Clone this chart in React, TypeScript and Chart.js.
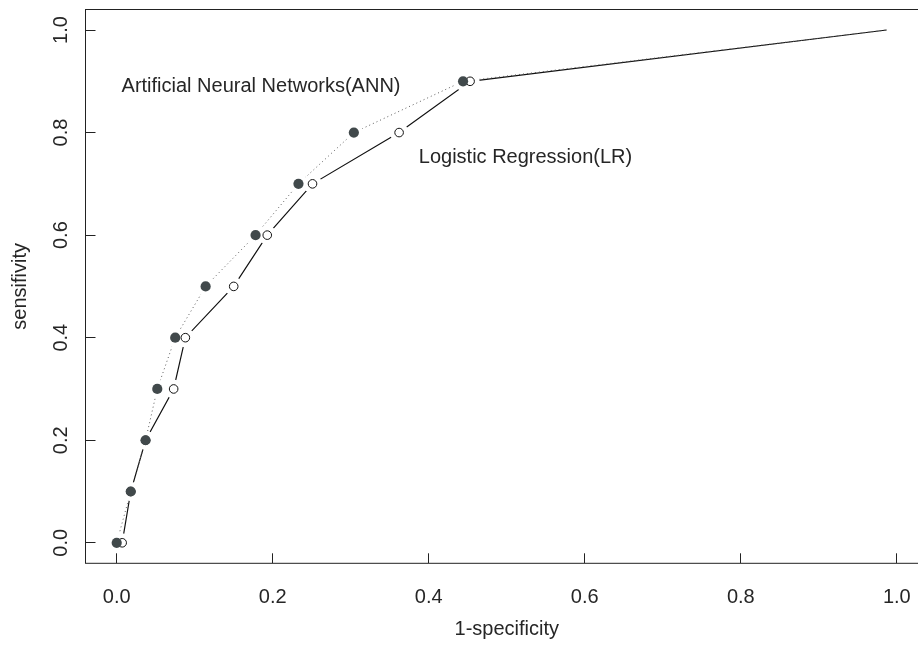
import { useEffect, useRef } from "react";
import { Chart, registerables } from "chart.js";

Chart.register(...registerables);

// ---- data ----
const TPR = [0, 0.1, 0.2, 0.3, 0.4, 0.5, 0.6, 0.7, 0.8, 0.9, 1.0];
const ANN_FPR = [0, 0.018, 0.037, 0.052, 0.075, 0.114, 0.178, 0.233, 0.304, 0.444, 0.987];
const LR_FPR = [0.007, 0.018, 0.037, 0.073, 0.088, 0.15, 0.193, 0.251, 0.362, 0.453, 0.987];
const X_TICKS = [0, 0.2, 0.4, 0.6, 0.8, 1.0];
const Y_TICKS = [0, 0.2, 0.4, 0.6, 0.8, 1.0];
const X_TITLE = "1-specificity";
const Y_TITLE = "sensifivity";
const ANN_LABEL = "Artificial Neural Networks(ANN)";
const LR_LABEL = "Logistic Regression(LR)";
const ANN_LABEL_AT = [0.185, 0.89];
const LR_LABEL_AT = [0.524, 0.751];

// ---- styles ----
const FONT_FAMILY = '"Liberation Sans", Arial, Helvetica, sans-serif';
const FONT_SIZE = 20;
const TEXT_COLOR = "#262626";
const AXIS_COLOR = "#222222";
const FILL_COLOR = "#41494b";

const annPoints = ANN_FPR.map((x, i) => ({ x, y: TPR[i] }));
const lrPoints = LR_FPR.map((x, i) => ({ x, y: TPR[i] }));
const lastIdx = TPR.length - 1;
const markerRadius = (r: number) => (ctx: any) => (ctx.dataIndex === lastIdx ? 0 : r);

const framePlugin = {
  id: "frame",
  beforeDatasetsDraw(chart: any) {
    const { ctx, chartArea } = chart;
    ctx.save();
    ctx.strokeStyle = AXIS_COLOR;
    ctx.lineWidth = 1;
    ctx.strokeRect(chartArea.left, chartArea.top, chartArea.right + 20 - chartArea.left, chartArea.bottom - chartArea.top);
    ctx.restore();
  },
  afterDatasetsDraw(chart: any) {
    const { ctx, scales } = chart;
    ctx.save();
    ctx.font = `${FONT_SIZE}px ${FONT_FAMILY}`;
    ctx.fillStyle = TEXT_COLOR;
    ctx.textAlign = "center";
    ctx.textBaseline = "middle";
    const items: [string, number[]][] = [
      [ANN_LABEL, ANN_LABEL_AT],
      [LR_LABEL, LR_LABEL_AT],
    ];
    for (const [text, at] of items) {
      ctx.fillText(text, scales.x.getPixelForValue(at[0]), scales.y.getPixelForValue(at[1]));
    }
    ctx.restore();
  },
};

const tickFont = { family: FONT_FAMILY, size: FONT_SIZE };

export default function App() {
  const ref = useRef<HTMLCanvasElement>(null);
  useEffect(() => {
    const chart = new Chart(ref.current as HTMLCanvasElement, {
      type: "line",
      data: {
        datasets: [
          {
            label: "ANN markers",
            data: annPoints,
            showLine: false,
            pointRadius: markerRadius(5.1),
            pointBackgroundColor: FILL_COLOR,
            pointBorderColor: FILL_COLOR,
            pointBorderWidth: 0,
            order: 0,
          },
          {
            label: "LR markers",
            data: lrPoints,
            showLine: false,
            pointRadius: markerRadius(4.3),
            pointBackgroundColor: "#ffffff",
            pointBorderColor: "#111111",
            pointBorderWidth: 1,
            order: 1,
          },
          {
            label: "ANN gap",
            data: annPoints,
            showLine: false,
            pointRadius: markerRadius(9.5),
            pointBackgroundColor: "#ffffff",
            pointBorderWidth: 0,
            order: 2,
          },
          {
            label: "LR gap",
            data: lrPoints,
            showLine: false,
            pointRadius: markerRadius(9.5),
            pointBackgroundColor: "#ffffff",
            pointBorderWidth: 0,
            order: 3,
          },
          {
            label: "ANN",
            data: annPoints,
            borderColor: "#5a5a5a",
            borderWidth: 1,
            borderDash: [1, 3],
            pointRadius: 0,
            tension: 0,
            order: 4,
          },
          {
            label: "LR",
            data: lrPoints,
            borderColor: "#111111",
            borderWidth: 1.2,
            pointRadius: 0,
            tension: 0,
            order: 5,
          },
        ],
      } as any,
      options: {
        responsive: false,
        animation: false,
        devicePixelRatio: 1,
        events: [],
        layout: { padding: { top: 7.7, right: 12, bottom: 0, left: 0 } },
        plugins: { legend: { display: false }, tooltip: { enabled: false } },
        scales: {
          x: {
            type: "linear",
            min: -0.04,
            max: 1.04,
            afterBuildTicks: (s: any) => {
              s.ticks = X_TICKS.map((v) => ({ value: v }));
            },
            afterFit: (s: any) => {
              s.height = 85.7;
              s.paddingLeft = 0;
              s.paddingRight = 0;
            },
            grid: {
              display: true,
              drawOnChartArea: false,
              drawTicks: true,
              tickLength: -10,
              tickColor: AXIS_COLOR,
              tickWidth: 1,
            },
            border: { display: false },
            ticks: {
              autoSkip: false,
              maxRotation: 0,
              padding: 31.7,
              color: TEXT_COLOR,
              font: tickFont,
              callback: (v: any) => Number(v).toFixed(1),
            },
            title: {
              display: true,
              text: X_TITLE,
              color: TEXT_COLOR,
              font: tickFont,
              padding: { top: 0, bottom: 8 },
            },
          },
          y: {
            type: "linear",
            min: -0.04,
            max: 1.04,
            afterBuildTicks: (s: any) => {
              s.ticks = Y_TICKS.map((v) => ({ value: v }));
            },
            afterFit: (s: any) => {
              s.width = 85.5;
              s.paddingTop = 0;
              s.paddingBottom = 0;
            },
            grid: {
              display: true,
              drawOnChartArea: false,
              drawTicks: true,
              tickLength: -10,
              tickColor: AXIS_COLOR,
              tickWidth: 1,
            },
            border: { display: false },
            ticks: {
              autoSkip: false,
              minRotation: 90,
              maxRotation: 90,
              crossAlign: "center",
              padding: 20.1,
              color: TEXT_COLOR,
              font: tickFont,
              callback: (v: any) => Number(v).toFixed(1),
            },
            title: {
              display: true,
              text: Y_TITLE,
              color: TEXT_COLOR,
              font: tickFont,
              padding: { top: 8, bottom: 0 },
            },
          },
        },
      } as any,
      plugins: [framePlugin],
    });
    return () => chart.destroy();
  }, []);

  return (
    <div
      style={{
        position: "fixed",
        left: 0,
        top: 0,
        width: 918,
        height: 649,
        overflow: "hidden",
        background: "#ffffff",
      }}
    >
      <canvas ref={ref} width={940} height={649} style={{ display: "block", width: 940, height: 649 }} />
    </div>
  );
}
